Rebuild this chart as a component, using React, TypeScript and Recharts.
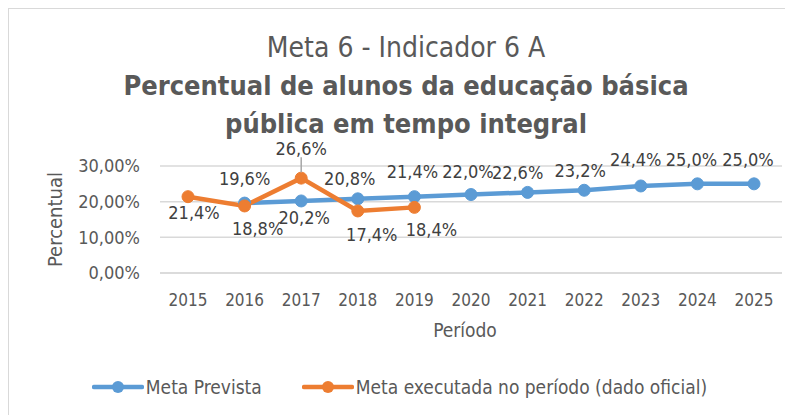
import { LineChart, Line, XAxis, YAxis, CartesianGrid, Legend, LabelList } from 'recharts'

// categorias e valores (percentual)
const years = ['2015', '2016', '2017', '2018', '2019', '2020', '2021', '2022', '2023', '2024', '2025']
const metaPrevista = [null, 19.6, 20.2, 20.8, 21.4, 22.0, 22.6, 23.2, 24.4, 25.0, 25.0]
const metaExecutada = [21.4, 18.8, 26.6, 17.4, 18.4, null, null, null, null, null, null]
const yTicks = [0, 10, 20, 30]

const BLUE = '#5B9BD5'
const ORANGE = '#ED7D31'
const TEXT = '#595959'
const FONT = '"Liberation Sans Narrow", "DejaVu Sans Condensed", Roboto, sans-serif'

// deslocamento dos rótulos de dados (posição manual, como no Excel)
const blueLabelOffset: Record<number, [number, number]> = {
  1: [0, -25], 2: [3, 17], 3: [-8, -20], 4: [-2, -25], 5: [-3, -23],
  6: [-10, -20], 7: [-4, -20], 8: [-5, -26], 9: [-6, -24], 10: [-6, -24],
}
const orangeLabelOffset: Record<number, [number, number]> = {
  0: [6, 16], 1: [13, 23], 2: [0, -30], 3: [14, 24], 4: [17, 22],
}

const data = years.map((year, i) => ({
  year,
  prevista: metaPrevista[i],
  executada: metaExecutada[i],
}))

const fmtPct = (v: number) => `${v.toFixed(1).replace('.', ',')}%`

const makeLabel = (offsets: Record<number, [number, number]>) => (props: any) => {
  const { x, y, value, index } = props
  if (value == null) return null
  const [dx, dy] = offsets[index] || [0, -22]
  const leader = Math.abs(dy) >= 30
  return (
    <g>
      {leader && <line x1={x} y1={y + dy + 9} x2={x} y2={y - 6} stroke="#a6a6a6" strokeWidth={1.5} />}
      <text x={x + dx} y={y + dy} textAnchor="middle" dominantBaseline="central" fill="#404040" fontSize={18} fontFamily={FONT}>
        {fmtPct(value)}
      </text>
    </g>
  )
}

const LegendContent = () => (
  <div style={{ display: 'flex', justifyContent: 'center', gap: 40, fontFamily: FONT, fontSize: 19, color: TEXT, paddingRight: 22 }}>
    {[{ c: BLUE, t: 'Meta Prevista' }, { c: ORANGE, t: 'Meta executada no período (dado oficial)' }].map((it) => (
      <div key={it.t} style={{ display: 'flex', alignItems: 'center' }}>
        <svg width={52} height={14}>
          <line x1={2} y1={7} x2={50} y2={7} stroke={it.c} strokeWidth={4.5} strokeLinecap="round" />
          <circle cx={26} cy={7} r={6} fill={it.c} />
        </svg>
        <span style={{ marginLeft: 2 }}>{it.t}</span>
      </div>
    ))}
  </div>
)

export default function App() {
  return (
    <div style={{ position: 'relative', width: 785, height: 407, borderLeft: '1px solid #d9d9d9', borderTop: '1px solid #d9d9d9', background: '#fff' }}>
      <div style={{ position: 'absolute', left: 0, width: 794, top: 20, textAlign: 'center', fontFamily: FONT, color: TEXT, lineHeight: '38px' }}>
        <div style={{ fontSize: 28 }}>Meta 6 - Indicador 6 A</div>
        <div style={{ fontSize: 27, fontWeight: 'bold' }}>Percentual de alunos da educação básica</div>
        <div style={{ fontSize: 27, fontWeight: 'bold' }}>pública em tempo integral</div>
      </div>
      <LineChart width={784} height={406} data={data} margin={{ top: 157, right: 11, left: 30, bottom: 0 }}>
        <CartesianGrid vertical={false} stroke="#d9d9d9" strokeWidth={1.5} />
        <XAxis
          dataKey="year"
          height={112}
          padding={{ left: 28, right: 28 }}
          tickLine={false}
          tickSize={0}
          tickMargin={21}
          axisLine={{ stroke: '#d9d9d9', strokeWidth: 1.5 }}
          tick={{ fill: TEXT, fontSize: 17, fontFamily: FONT }}
          label={(p: any) => {
            const vb = p.viewBox
            return (
              <text x={vb.x + vb.width / 2 - 6} y={vb.y + 57} textAnchor="middle" dominantBaseline="central" fill={TEXT} fontSize={19} fontFamily={FONT}>
                Período
              </text>
            )
          }}
        />
        <YAxis
          width={121}
          domain={[0, 30]}
          ticks={yTicks}
          tickLine={false}
          tickSize={0}
          tickMargin={20}
          axisLine={false}
          tickFormatter={(v: number) => `${v.toFixed(2).replace('.', ',')}%`}
          tick={{ fill: TEXT, fontSize: 18, fontFamily: FONT }}
          label={(p: any) => {
            const vb = p.viewBox
            const cx = 46
            const cy = vb.y + vb.height / 2
            return (
              <text x={cx} y={cy} transform={`rotate(-90, ${cx}, ${cy})`} textAnchor="middle" dominantBaseline="central" fill={TEXT} fontSize={20} fontFamily={FONT}>
                Percentual
              </text>
            )
          }}
        />
        <Legend verticalAlign="bottom" content={LegendContent} wrapperStyle={{ height: 30, top: 367 }} />
        <Line
          dataKey="prevista"
          name="Meta Prevista"
          stroke={BLUE}
          strokeWidth={4.5}
          dot={{ r: 6, fill: BLUE, stroke: BLUE, strokeWidth: 1 }}
          isAnimationActive={false}
        >
          <LabelList dataKey="prevista" content={makeLabel(blueLabelOffset)} />
        </Line>
        <Line
          dataKey="executada"
          name="Meta executada no período (dado oficial)"
          stroke={ORANGE}
          strokeWidth={4.5}
          dot={{ r: 6, fill: ORANGE, stroke: ORANGE, strokeWidth: 1 }}
          isAnimationActive={false}
        >
          <LabelList dataKey="executada" content={makeLabel(orangeLabelOffset)} />
        </Line>
      </LineChart>
    </div>
  )
}
